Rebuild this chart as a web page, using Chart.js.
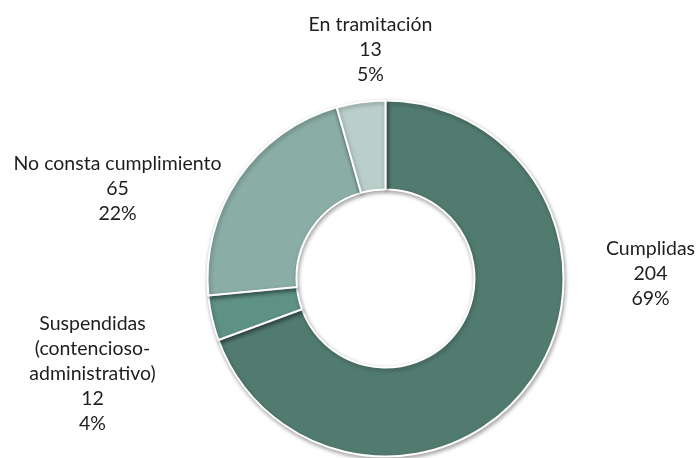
<!DOCTYPE html>
<html>
<head>
<meta charset="utf-8">
<script src="https://cdn.jsdelivr.net/npm/chart.js@4.4.0/dist/chart.umd.min.js"></script>
<style>
  html, body { margin: 0; padding: 0; background: #ffffff; }
  #wrap { width: 697px; height: 458px; }
</style>
</head>
<body>
<div id="wrap"><canvas id="chart" width="697" height="458"></canvas></div>
<script>
// Data
const categories = ['Cumplidas', 'Suspendidas (contencioso-administrativo)', 'No consta cumplimiento', 'En tramitación'];
const labelLines = [
    ['Cumplidas'],
    ['Suspendidas', '(contencioso-', 'administrativo)'],
    ['No consta cumplimiento'],
    ['En tramitación']
];
const values = [204, 12, 65, 13];
// percentages as printed on the chart
const percents = ['69%', '4%', '22%', '5%'];
const colors = ['#527b70', '#5e9285', '#8aada6', '#bbcfca'];

// Where each label block sits, relative to the doughnut centre (x = block centre, y = first line)
const labelOffsets = [
    {dx: 265, dy: -30},
    {dx: -293, dy: 45},
    {dx: -268, dy: -115},
    {dx: -15, dy: -254}
];

const shadowPlugin = {
    id: 'shadow',
    beforeDatasetsDraw(chart) {
        const ctx = chart.ctx;
        ctx.save();
        ctx.shadowColor = 'rgba(0, 0, 0, 0.35)';
        ctx.shadowBlur = 4;
        ctx.shadowOffsetX = 1;
        ctx.shadowOffsetY = 2;
    },
    afterDatasetsDraw(chart) {
        chart.ctx.restore();
    }
};

const labelPlugin = {
    id: 'outerLabels',
    afterDraw(chart) {
        const ctx = chart.ctx;
        const arc = chart.getDatasetMeta(0).data[0];
        const cx = arc.x, cy = arc.y;
        const lineH = 25;
        ctx.save();
        ctx.font = '19.5px Lato, sans-serif';
        ctx.fillStyle = '#1e1e1e';
        ctx.textAlign = 'center';
        ctx.textBaseline = 'middle';
        values.forEach((v, i) => {
            const lines = labelLines[i].concat([String(v), percents[i]]);
            const x = cx + labelOffsets[i].dx;
            let y = cy + labelOffsets[i].dy;
            lines.forEach(t => {
                ctx.fillText(t, x, y);
                y += lineH;
            });
        });
        ctx.restore();
    }
};

new Chart(document.getElementById('chart').getContext('2d'), {
    type: 'doughnut',
    data: {
        labels: categories,
        datasets: [{
            data: values,
            backgroundColor: colors,
            borderColor: '#ffffff',
            borderWidth: 2
        }]
    },
    options: {
        responsive: false,
        animation: false,
        cutout: '50%',
        radius: 178,
        layout: {
            padding: {top: 99, bottom: 0, left: 206, right: 132}
        },
        plugins: {
            legend: {display: false},
            tooltip: {enabled: false}
        }
    },
    plugins: [shadowPlugin, labelPlugin]
});
</script>
</body>
</html>
